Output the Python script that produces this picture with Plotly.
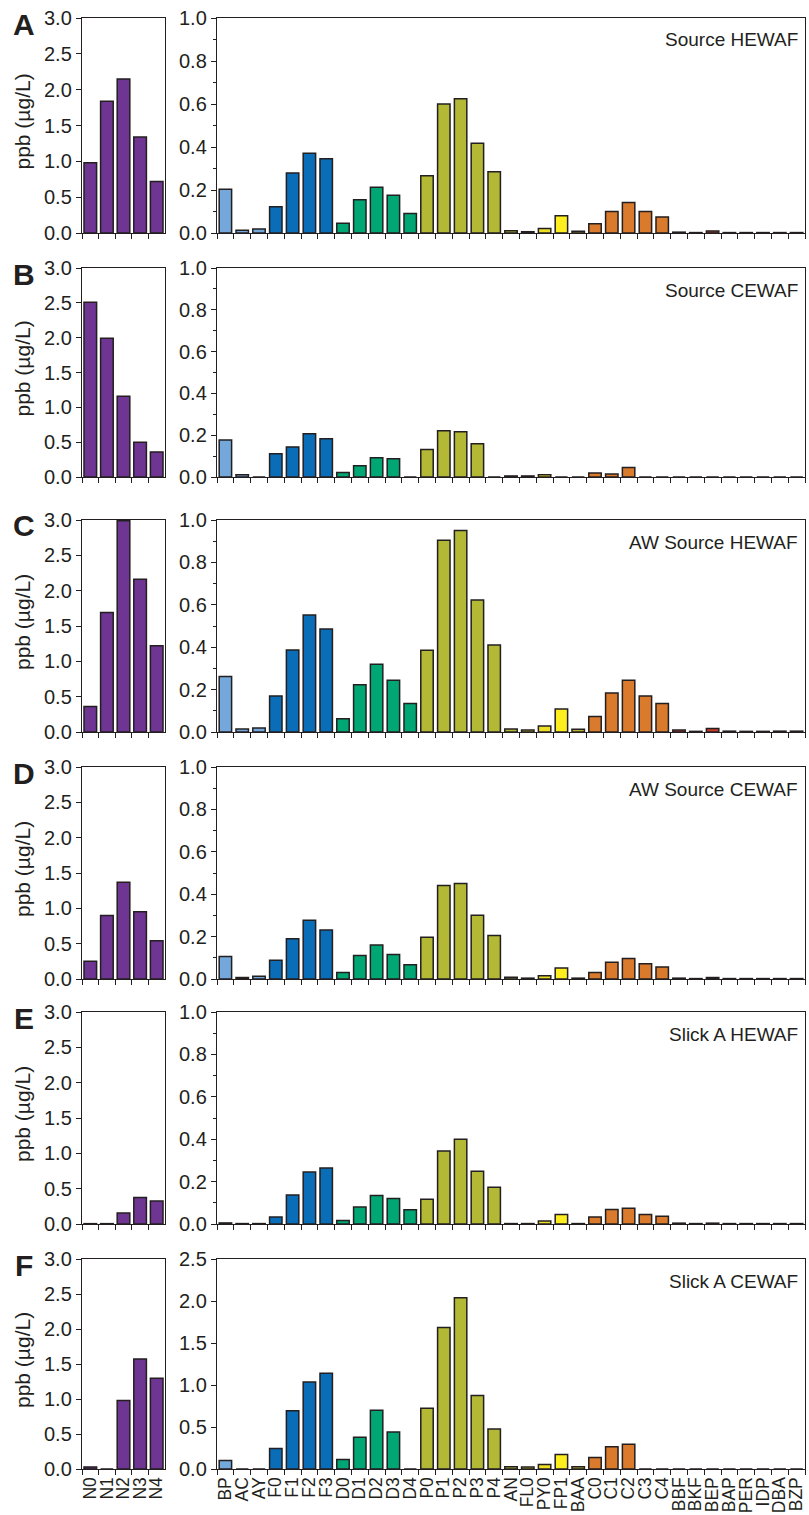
import plotly.graph_objects as go

W, H = 809, 1515

# ---------------- data ----------------
n_categories = ["N0", "N1", "N2", "N3", "N4"]
pah_categories = ["BP", "AC", "AY", "F0", "F1", "F2", "F3", "D0", "D1", "D2", "D3", "D4",
                  "P0", "P1", "P2", "P3", "P4", "AN", "FL0", "PY0", "FP1", "BAA",
                  "C0", "C1", "C2", "C3", "C4", "BBF", "BKF", "BEP", "BAP", "PER",
                  "IDP", "DBA", "BZP"]

panel_letters = ["A", "B", "C", "D", "E", "F"]
panel_titles = ["Source HEWAF", "Source CEWAF", "AW Source HEWAF", "AW Source CEWAF",
                "Slick A HEWAF", "Slick A CEWAF"]

n_source_hewaf = [0.98, 1.84, 2.15, 1.34, 0.72]
n_source_cewaf = [2.51, 1.99, 1.16, 0.50, 0.36]
n_aw_source_hewaf = [0.36, 1.69, 2.99, 2.16, 1.22]
n_aw_source_cewaf = [0.25, 0.90, 1.37, 0.95, 0.54]
n_slick_a_hewaf = [0.005, 0.005, 0.155, 0.375, 0.325]
n_slick_a_cewaf = [0.03, 0.0, 0.98, 1.57, 1.295]

pah_source_hewaf = [0.204, 0.013, 0.019, 0.122, 0.279, 0.371, 0.345, 0.045, 0.155, 0.213,
                    0.176, 0.091, 0.266, 0.600, 0.625, 0.418, 0.285, 0.010, 0.006, 0.021,
                    0.080, 0.008, 0.043, 0.100, 0.142, 0.100, 0.075, 0.004, 0.002, 0.009,
                    0.002, 0.002, 0.002, 0.002, 0.002]
pah_source_cewaf = [0.177, 0.011, 0.0, 0.111, 0.144, 0.207, 0.183, 0.021, 0.054, 0.092,
                    0.087, 0.0, 0.132, 0.221, 0.216, 0.159, 0.0, 0.005, 0.005, 0.011,
                    0.0, 0.0, 0.019, 0.014, 0.045, 0.0, 0.0, 0.0, 0.0, 0.0,
                    0.0, 0.0, 0.0, 0.0, 0.0]
pah_aw_source_hewaf = [0.262, 0.014, 0.019, 0.170, 0.387, 0.552, 0.486, 0.063, 0.223, 0.320,
                       0.244, 0.134, 0.386, 0.904, 0.950, 0.623, 0.410, 0.014, 0.009, 0.028,
                       0.108, 0.013, 0.073, 0.184, 0.244, 0.170, 0.134, 0.009, 0.003, 0.017,
                       0.004, 0.003, 0.003, 0.004, 0.004]
pah_aw_source_cewaf = [0.106, 0.007, 0.013, 0.089, 0.190, 0.277, 0.231, 0.031, 0.111, 0.160,
                       0.115, 0.067, 0.197, 0.441, 0.450, 0.301, 0.205, 0.008, 0.004, 0.015,
                       0.052, 0.004, 0.031, 0.079, 0.097, 0.072, 0.057, 0.004, 0.002, 0.007,
                       0.002, 0.002, 0.002, 0.002, 0.002]
pah_slick_a_hewaf = [0.005, 0.002, 0.002, 0.033, 0.137, 0.245, 0.264, 0.017, 0.080, 0.134,
                     0.120, 0.067, 0.117, 0.344, 0.400, 0.249, 0.173, 0.002, 0.002, 0.014,
                     0.045, 0.002, 0.033, 0.068, 0.074, 0.045, 0.037, 0.004, 0.002, 0.004,
                     0.002, 0.002, 0.002, 0.002, 0.002]
pah_slick_a_cewaf = [0.102, 0.0, 0.0, 0.244, 0.693, 1.036, 1.140, 0.114, 0.378, 0.700,
                     0.441, 0.0, 0.724, 1.686, 2.040, 0.874, 0.476, 0.028, 0.024, 0.055,
                     0.173, 0.028, 0.138, 0.264, 0.295, 0.0, 0.0, 0.0, 0.0, 0.0,
                     0.0, 0.0, 0.0, 0.0, 0.0]

n_series = [n_source_hewaf, n_source_cewaf, n_aw_source_hewaf, n_aw_source_cewaf,
            n_slick_a_hewaf, n_slick_a_cewaf]
pah_series = [pah_source_hewaf, pah_source_cewaf, pah_aw_source_hewaf, pah_aw_source_cewaf,
              pah_slick_a_hewaf, pah_slick_a_cewaf]
pah_ymax = [1.0, 1.0, 1.0, 1.0, 1.0, 2.5]

# ---------------- styles ----------------
LIGHTBLUE, BLUE, GREEN, OLIVE = "#74a7da", "#0a6db7", "#00a774", "#b3b835"
ORANGE, RED, PURPLE = "#d97a2c", "#c93b2b", "#6e3592"
group_colors = {
    "BP": LIGHTBLUE, "AC": LIGHTBLUE, "AY": LIGHTBLUE,
    "AN": OLIVE, "FL0": "#cbc42c", "PY0": "#ecdf25", "FP1": "#ffee1f", "BAA": "#bdb42e",
}
def cat_color(c):
    if c in group_colors:
        return group_colors[c]
    if c.startswith("F"):
        return BLUE
    if c.startswith("D") and c != "DBA":
        return GREEN
    if c.startswith("P") and c not in ("PY0", "PER"):
        return OLIVE
    if c.startswith("C"):
        return ORANGE
    return RED

pah_colors = [cat_color(c) for c in pah_categories]

FONT = "Liberation Sans, Arial, Helvetica, sans-serif"
TXT = "#231f20"
LINE = "#231f20"

# pixel layout (top, bottom) of each row
row_px = [(18, 233), (268, 477), (520, 732), (767, 979), (1012, 1224), (1259, 1469)]
left_x = (82, 165)
right_x = (217, 805)

def px_x(p):
    return p / W

def px_y(p):
    return 1 - p / H

fig = go.Figure()
annotations = []

for i in range(6):
    top, bot = row_px[i]
    ydom = [px_y(bot), px_y(top)]
    la = 2 * i + 1
    ra = 2 * i + 2
    lx = "x" if la == 1 else f"x{la}"
    ly = "y" if la == 1 else f"y{la}"
    rx = f"x{ra}"
    ry = f"y{ra}"
    last = (i == 5)

    fig.add_trace(go.Bar(x=n_categories, y=n_series[i], xaxis=lx, yaxis=ly,
                         marker=dict(color=PURPLE, line=dict(color=LINE, width=1.5)),
                         width=0.76, showlegend=False, hoverinfo="x+y"))
    fig.add_trace(go.Bar(x=pah_categories, y=pah_series[i], xaxis=rx, yaxis=ry,
                         marker=dict(color=pah_colors, line=dict(color=LINE, width=1.5)),
                         width=0.74, showlegend=False, hoverinfo="x+y"))

    xcommon = dict(type="category", showline=True, linecolor=LINE, linewidth=1.2,
                   mirror=True, ticks="outside", tickson="boundaries", ticklen=5,
                   tickcolor=LINE, tickwidth=1, showgrid=False, zeroline=False,
                   tickmode="linear", tick0=0, dtick=1,
                   tickangle=-90, showticklabels=last, automargin=False,
                   tickfont=dict(family=FONT, size=17.5, color=TXT), fixedrange=True)
    ycommon = dict(showline=True, linecolor=LINE, linewidth=1.2, mirror=True,
                   ticks="outside", ticklen=5, tickcolor=LINE, tickwidth=1,
                   showgrid=False, zeroline=False, tickformat=".1f", automargin=False,
                   tickfont=dict(family=FONT, size=20, color=TXT), fixedrange=True)

    fig.layout[f"xaxis{'' if la == 1 else la}"] = dict(
        xcommon, domain=[px_x(left_x[0]), px_x(left_x[1])], anchor=ly,
        categoryorder="array", categoryarray=n_categories)
    fig.layout[f"yaxis{'' if la == 1 else la}"] = dict(
        ycommon, domain=ydom, anchor=lx, range=[0, 3.0], dtick=0.5, tick0=0)

    fig.layout[f"xaxis{ra}"] = dict(
        xcommon, domain=[px_x(right_x[0]), px_x(right_x[1])], anchor=ry,
        categoryorder="array", categoryarray=pah_categories)
    ymax = pah_ymax[i]
    yr = dict(ycommon, domain=ydom, anchor=rx, range=[0, ymax],
              dtick=(0.5 if ymax > 1 else 0.2), tick0=0)
    if ymax <= 1:
        yr["minor"] = dict(dtick=0.1, ticks="outside", ticklen=3, tickcolor=LINE)
    fig.layout[f"yaxis{ra}"] = yr

    # panel letter
    annotations.append(dict(text=f"<b>{panel_letters[i]}</b>", x=px_x(24), y=px_y(top + 6),
                            xref="paper", yref="paper", showarrow=False,
                            font=dict(family=FONT, size=30, color=TXT),
                            xanchor="center", yanchor="middle"))
    # y title
    annotations.append(dict(text="ppb (µg/L)", x=px_x(22), y=px_y((top + bot) / 2 - 4),
                            xref="paper", yref="paper", showarrow=False, textangle=-90,
                            font=dict(family=FONT, size=21, color=TXT),
                            xanchor="center", yanchor="middle"))
    # panel title
    annotations.append(dict(text=panel_titles[i], x=px_x(800), y=px_y(top + 22),
                            xref="paper", yref="paper", showarrow=False,
                            font=dict(family=FONT, size=19, color=TXT),
                            xanchor="right", yanchor="middle"))

fig.update_layout(width=W, height=H, margin=dict(l=0, r=0, t=0, b=0),
                  paper_bgcolor="white", plot_bgcolor="white",
                  bargap=0.25, annotations=annotations,
                  font=dict(family=FONT, color=TXT))

fig.write_html("out.html", config={"displayModeBar": False, "staticPlot": True},
               post_script="document.body.style.margin='0';document.body.style.overflow='hidden';")
